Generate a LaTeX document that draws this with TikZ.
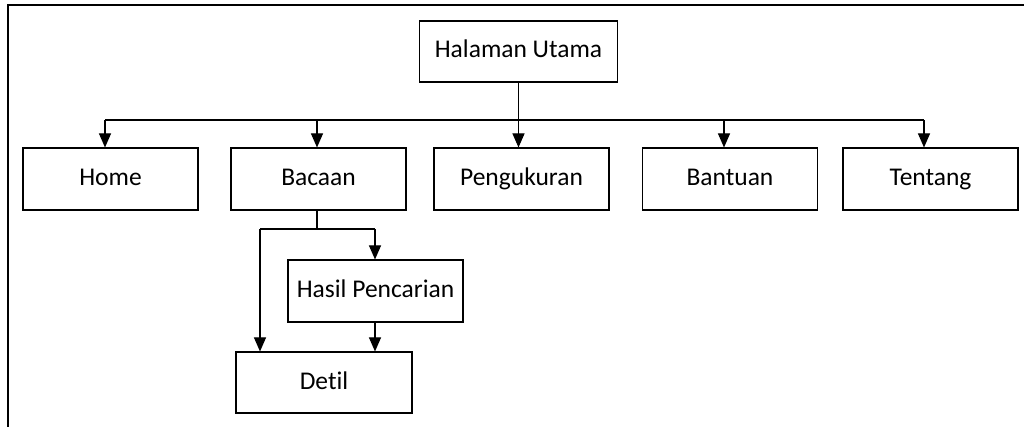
\documentclass[tikz,border=0pt]{standalone}
\usepackage{fontspec}
\setmainfont[Ligatures=NoCommon]{Carlito}
\usetikzlibrary{arrows.meta}
\begin{document}
\begin{tikzpicture}[x=1pt,y=-1pt,
  box/.style={draw,line width=1.1pt,minimum width=175pt,minimum height=62pt,inner sep=0pt,text height=16pt,text depth=3pt,font=\fontsize{25.5}{30}\selectfont},
  conn/.style={line width=1.1pt},
  arr/.style={conn,-{Triangle[length=14pt,width=12pt]}}]
\useasboundingbox (0,0) rectangle (1025,427);
\draw[line width=1.8pt] (8,427) -- (8,5) -- (1024,5);
\node[box,minimum width=198pt,minimum height=61pt] (top) at (518.5,51.5) {Halaman Utama};
\node[box] (home) at (110.5,179) {Home};
\node[box] (bacaan) at (318.5,179) {Bacaan};
\node[box] (peng) at (521.5,179) {Pengukuran};
\node[box] (bantuan) at (730,179) {Bantuan};
\node[box] (tentang) at (930.5,179) {Tentang};
\node[box] (hasil) at (375.5,291) {Hasil Pencarian};
\node[box,minimum width=176pt,minimum height=61pt] (detil) at (324,382.5) {Detil};
\coordinate (bl) at (105,120);
\coordinate (bb) at (317,120);
\coordinate (bp) at (518.5,120);
\coordinate (bn) at (724,120);
\coordinate (br) at (924,120);
\draw[conn] (top.south) -- (bp);
\draw[conn] (bl) -- (br);
\draw[arr] (bl) -- (bl |- home.north);
\draw[arr] (bb) -- (bb |- bacaan.north);
\draw[arr] (bp) -- (bp |- peng.north);
\draw[arr] (bn) -- (bn |- bantuan.north);
\draw[arr] (br) -- (br |- tentang.north);
\coordinate (s1) at (317,229);
\coordinate (sl) at (260,229);
\coordinate (sr) at (375,229);
\draw[conn] (s1 |- bacaan.south) -- (s1);
\draw[conn] (sl) -- (sr);
\draw[arr] (sr) -- (sr |- hasil.north);
\draw[arr] (sl) -- (sl |- detil.north);
\draw[arr] (sr |- hasil.south) -- (sr |- detil.north);
\end{tikzpicture}
\end{document}
